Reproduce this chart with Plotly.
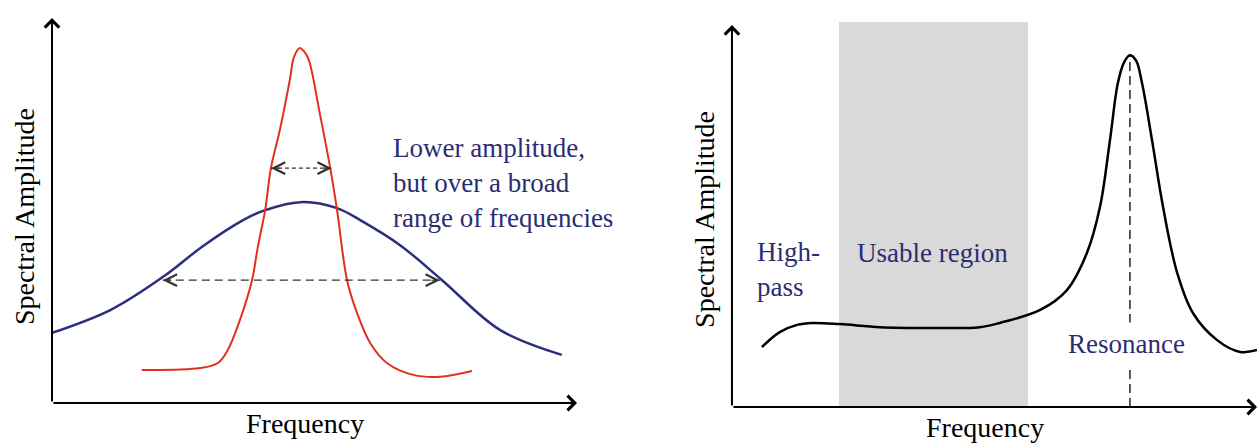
import plotly.graph_objects as go

# ---- left panel: narrow-band (red) vs broadband (blue) spectra ----
narrow_freq = [1.71, 2.82, 3.16, 3.35, 3.58, 3.81, 3.92, 4.06, 4.17, 4.34, 4.53, 4.61, 4.72,
               4.84, 4.91, 5.10, 5.30, 5.43, 5.62, 5.81, 6.06, 6.38, 6.88, 7.39, 8.00]
narrow_amp = [0.86, 0.91, 1.04, 1.38, 2.16, 3.19, 4.05, 5.01, 6.10, 7.09, 8.39, 8.99, 9.22,
              9.06, 8.83, 7.53, 6.10, 5.01, 3.19, 2.34, 1.56, 1.04, 0.73, 0.68, 0.83]

broad_freq = [0.0, 1.12, 2.11, 2.88, 3.64, 4.02, 4.78, 5.43, 5.87, 6.63, 7.43, 8.53, 9.71]
broad_amp = [1.82, 2.42, 3.27, 4.08, 4.75, 4.99, 5.22, 5.06, 4.75, 4.10, 3.19, 1.90, 1.25]

# bandwidth arrows: [start freq, end freq], amplitude level
narrow_bw = [4.17, 5.33]
narrow_bw_level = 6.10
broad_bw = [2.11, 7.39]
broad_bw_level = 3.19

# ---- right panel: sensor response with resonance ----
sensor_freq = [0.57, 0.91, 1.24, 1.54, 2.06, 2.82, 3.77, 4.72, 5.10, 5.87, 6.38, 6.76,
               7.01, 7.20, 7.35, 7.47, 7.58, 7.70, 7.81, 8.00, 8.21, 8.48, 8.78, 9.24,
               9.68, 10.0]
sensor_amp = [1.57, 1.96, 2.15, 2.20, 2.17, 2.09, 2.07, 2.09, 2.20, 2.54, 3.06, 4.03,
              5.24, 6.99, 8.48, 9.03, 9.21, 9.06, 8.48, 6.99, 5.24, 3.51, 2.46, 1.75,
              1.44, 1.49]
usable_band = [2.04, 5.64]

NAVY = '#2b2d72'
FONT = 'Liberation Serif'

peak_i = sensor_amp.index(max(sensor_amp))
res_freq = sensor_freq[peak_i]
res_amp = sensor_amp[peak_i]

fig = go.Figure()

# left panel curves
fig.add_trace(go.Scatter(x=broad_freq, y=broad_amp, mode='lines',
                         line=dict(color='#2a2e7c', width=2.5, shape='spline'),
                         xaxis='x', yaxis='y'))
fig.add_trace(go.Scatter(x=narrow_freq, y=narrow_amp, mode='lines',
                         line=dict(color='#e2301f', width=2, shape='spline'),
                         xaxis='x', yaxis='y'))

# dashed bandwidth shafts
fig.add_trace(go.Scatter(x=narrow_bw, y=[narrow_bw_level] * 2, mode='lines',
                         line=dict(color='#333333', width=1.3, dash='4px,3px'),
                         xaxis='x', yaxis='y'))
fig.add_trace(go.Scatter(x=broad_bw, y=[broad_bw_level] * 2, mode='lines',
                         line=dict(color='#333333', width=1.3, dash='8px,5px'),
                         xaxis='x', yaxis='y'))

# right panel curve and resonance marker
fig.add_trace(go.Scatter(x=sensor_freq, y=sensor_amp, mode='lines',
                         line=dict(color='black', width=2.5, shape='spline'),
                         xaxis='x2', yaxis='y2'))
fig.add_trace(go.Scatter(x=[res_freq, res_freq], y=[0, res_amp], mode='lines',
                         line=dict(color='black', width=1.3, dash='9px,5px'),
                         xaxis='x2', yaxis='y2'))

# usable region band
fig.add_shape(type='rect', xref='x2', yref='y2 domain',
              x0=usable_band[0], x1=usable_band[1], y0=0, y1=1.008,
              fillcolor='#d9d9d9', line_width=0, layer='below')

annotations = []

# axis arrows
for xr, yr in [('x', 'y'), ('x2', 'y2')]:
    annotations.append(dict(x=10, y=0, ax=0, ay=0, xref=xr, yref=yr, axref=xr, ayref=yr,
                            text='', showarrow=True, arrowhead=4, arrowwidth=2,
                            arrowsize=1.4, arrowcolor='black'))
    annotations.append(dict(x=0, y=10, ax=0, ay=0, xref=xr, yref=yr, axref=xr, ayref=yr,
                            text='', showarrow=True, arrowhead=4, arrowwidth=2,
                            arrowsize=1.4, arrowcolor='black'))

# bandwidth arrow heads
for bw, lvl in [(narrow_bw, narrow_bw_level), (broad_bw, broad_bw_level)]:
    annotations.append(dict(x=bw[0], y=lvl, xref='x', yref='y', ax=10, ay=0,
                            text='', showarrow=True, arrowhead=5, arrowwidth=1.1,
                            arrowsize=2.1, arrowcolor='#333333'))
    annotations.append(dict(x=bw[1], y=lvl, xref='x', yref='y', ax=-10, ay=0,
                            text='', showarrow=True, arrowhead=5, arrowwidth=1.1,
                            arrowsize=2.1, arrowcolor='#333333'))

txt = dict(family=FONT, size=27, color=NAVY)
annotations += [
    dict(x=6.46, y=5.71, xref='x', yref='y', xanchor='left', yanchor='middle', align='left',
         text='Lower amplitude,<br>but over a broad<br>range of frequencies',
         showarrow=False, font=txt),
    dict(x=0.44, y=3.60, xref='x2', yref='y2', xanchor='left', yanchor='middle', align='left',
         text='High-<br>pass', showarrow=False, font=txt),
    dict(x=2.34, y=4.03, xref='x2', yref='y2', xanchor='left', yanchor='middle',
         text='Usable region', showarrow=False, font=txt),
    dict(x=res_freq - 0.07, y=1.65, xref='x2', yref='y2', xanchor='center', yanchor='middle',
         text='Resonance', showarrow=False, font=txt, bgcolor='white', borderpad=6),
]

# axis titles
title_font = dict(family=FONT, size=28, color='black')
annotations += [
    dict(x=0.2427, y=0.0429, xref='paper', yref='paper', text='Frequency',
         showarrow=False, font=title_font, xanchor='center', yanchor='middle'),
    dict(x=0.7836, y=0.0361, xref='paper', yref='paper', text='Frequency',
         showarrow=False, font=title_font, xanchor='center', yanchor='middle'),
    dict(x=0.0191, y=0.510, xref='paper', yref='paper', text='Spectral Amplitude',
         textangle=-90, showarrow=False, font=title_font, xanchor='center', yanchor='middle'),
    dict(x=0.560, y=0.5056, xref='paper', yref='paper', text='Spectral Amplitude',
         textangle=-90, showarrow=False, font=title_font, xanchor='center', yanchor='middle'),
]

hidden = dict(showline=False, showgrid=False, zeroline=False, showticklabels=False,
              ticks='', fixedrange=True)

fig.update_layout(
    width=1257, height=443,
    margin=dict(l=0, r=0, t=0, b=0),
    showlegend=False,
    paper_bgcolor='white', plot_bgcolor='white',
    xaxis=dict(domain=[0.04137, 0.45903], range=[0, 10], **hidden),
    yaxis=dict(domain=[0.0903, 0.9594], range=[0, 10], **hidden),
    xaxis2=dict(domain=[0.5823, 1.0], range=[0, 10], anchor='y2', **hidden),
    yaxis2=dict(domain=[0.0813, 0.9436], range=[0, 10], anchor='x2', **hidden),
    annotations=annotations,
)

# drop the default page margin so the figure sits at the window's top-left corner
fig.write_html("out.html", config={'displayModeBar': False},
               post_script="document.body.style.margin='0';")
